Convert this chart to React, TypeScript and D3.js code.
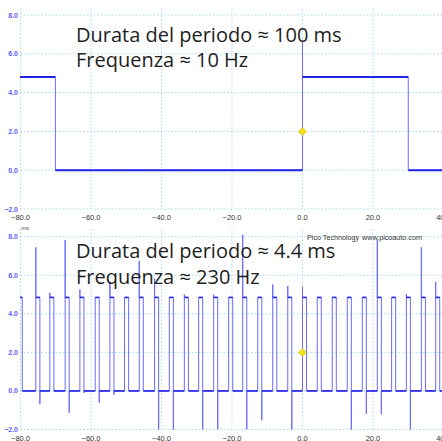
import React from 'react';
import * as d3 from 'd3';

// x axis (ms) and y axis (V) ticks, same for both traces
const timeTicks = [-80, -60, -40, -20, 0, 20, 40];
const voltTicks = [-2, 0, 2, 4, 6, 8];

// top trace: 100 ms period square wave
const topHigh = 4.8;
const topLow = 0;
const topEdges = [-70.1, 0.0, 30.0]; // first edge is a falling one
const topRiseSpike = 6.6;

// bottom trace: 4.4 ms period pulses
const bottomHigh = 4.85;
const bottomLow = 0;
const bottomFirstFall = -79.5;
const bottomPulseWidth = 1.15;
const bottomRising = [
  -75.65, -71.68, -67.33, -63.15, -58.81, -54.63, -50.48, -46.31, -41.96, -37.78,
  -33.52, -29.46, -25.2, -20.94, -16.96, -12.7, -8.44, -4.18, 0, 4.18,
  8.44, 12.7, 16.96, 21.22, 25.28, 29.46, 33.72, 37.78,
];
// [pulse index, peak volts] overshoot on rising edges
const bottomUpSpikes: [number, number][] = [
  [0, 7.45], [1, 5.09], [2, 7.83], [3, 5.26], [5, 5.66], [7, 6.75], [8, 5.83],
  [10, 5.0], [12, 5.0], [14, 8.1], [16, 5.52], [17, 5.44], [18, 5.4],
  [23, 7.83], [25, 5.02], [26, 7.45], [27, 5.66],
];
// [pulse index, trough volts] undershoot on falling edges
const bottomDownSpikes: [number, number][] = [
  [0, -0.69], [2, -1.13], [3, -0.1], [4, -0.61], [5, -0.2], [8, -2.0], [9, -2.0],
  [11, -2.0], [12, -2.0], [14, -2.0], [15, -1.52], [17, -2.0], [21, -2.0],
  [22, -1.18], [23, -1.21], [25, -2.0],
];

const triggerMarker = { t: 0, v: 2.0 };

const W = 442;
const H = 441;

type Pt = [number, number];

function topPoints(): Pt[] {
  let level = topHigh;
  const pts: Pt[] = [[-85, level]];
  topEdges.forEach((t) => {
    const next = level === topHigh ? topLow : topHigh;
    pts.push([t, level]);
    if (next === topHigh && t === 0) pts.push([t, topRiseSpike]);
    pts.push([t, next]);
    level = next;
  });
  pts.push([45, level]);
  return pts;
}

function bottomPoints(): Pt[] {
  const up = new Map(bottomUpSpikes);
  const down = new Map(bottomDownSpikes);
  const pts: Pt[] = [[-85, bottomHigh], [bottomFirstFall, bottomHigh], [bottomFirstFall, bottomLow]];
  bottomRising.forEach((r, k) => {
    const f = r + bottomPulseWidth;
    pts.push([r, bottomLow]);
    if (up.has(k)) pts.push([r, up.get(k)!]);
    pts.push([r, bottomHigh]);
    pts.push([f, bottomHigh]);
    if (down.has(k)) pts.push([f, down.get(k)!]);
    pts.push([f, bottomLow]);
  });
  pts.push([45, bottomLow]);
  return pts;
}

const fmt = d3.format('.1f');
const tickFont = 'Liberation Sans, Arial, sans-serif';

function Panel({ id, y8, yM2, gridTop, labelY, pts, heavy }: {
  id: string; y8: number; yM2: number; gridTop: number; labelY: number; pts: Pt[]; heavy: number;
}) {
  const x = d3.scaleLinear().domain([-80, 40]).range([20.5, 443.5]);
  const y = d3.scaleLinear().domain([-2, 8]).range([yM2, y8]);
  const line = d3.line<Pt>().x((d) => x(d[0])).y((d) => y(d[1]));
  const flats: Pt[][] = [];
  for (let i = 1; i < pts.length; i++) {
    if (pts[i][1] === pts[i - 1][1]) flats.push([pts[i - 1], pts[i]]);
  }
  const mx = x(triggerMarker.t);
  const my = y(triggerMarker.v);
  return (
    <g>
      <defs>
        <clipPath id={id}>
          <rect x={20} y={gridTop} width={W} height={yM2 - gridTop + 0.5} />
        </clipPath>
      </defs>
      {voltTicks.map((v) => (
        <line key={'h' + v} x1={20.5} x2={W} y1={y(v)} y2={y(v)}
          stroke="#a9d9ec" strokeWidth={1} strokeDasharray="1.5,2" />
      ))}
      {timeTicks.map((t) => (
        <line key={'v' + t} x1={x(t)} x2={x(t)} y1={gridTop} y2={yM2}
          stroke="#a9d9ec" strokeWidth={1} strokeDasharray="1.5,2" />
      ))}
      {voltTicks.map((v) => (
        <text key={'yl' + v} x={18} y={y(v) + 2.5} textAnchor="end" fontSize={7}
          fontWeight="bold" fill="#6060ff" fontFamily={tickFont}>{fmt(v)}</text>
      ))}
      {timeTicks.map((t) => (
        <text key={'xl' + t} x={x(t)} y={labelY} textAnchor="middle" fontSize={7.5}
          fill="#333" fontFamily={tickFont}>{fmt(t)}</text>
      ))}
      <g clipPath={`url(#${id})`}>
        <path d={line(pts) ?? ''} fill="none" stroke="#6b6bff" strokeWidth={1} />
        {flats.map((s, i) => (
          <path key={i} d={line(s) ?? ''} fill="none" stroke="#2424e8" strokeWidth={heavy} />
        ))}
      </g>
      <path d={`M${mx},${my - 4}L${mx + 4},${my}L${mx},${my + 4}L${mx - 4},${my}Z`}
        fill="#f2e21a" stroke="#c9b800" strokeWidth={0.6} />
    </g>
  );
}

const annoFont = '"Open Sans", Lato, sans-serif';

export default function App() {
  const top = topPoints();
  const bottom = bottomPoints();
  return (
    <div style={{ position: 'absolute', left: 0, top: 0 }}>
      <svg width={W} height={H} style={{ display: 'block', background: '#fff' }}>
        <Panel id="clipTop" y8={15} yM2={209} gridTop={9} labelY={220} pts={top} heavy={2} />
        <Panel id="clipBottom" y8={236.7} yM2={429.5} gridTop={229} labelY={440.5} pts={bottom} heavy={1.6} />
        <text x={21} y={230} fontSize={6} fill="#555" fontFamily={tickFont}>ms</text>
        <text x={307} y={240} fontSize={7.2} fill="#333" fontFamily={tickFont}>Pico Technology</text>
        <text x={362} y={240} fontSize={7.2} fill="#333" fontFamily={tickFont}>www.picoauto.com</text>
        <g fontFamily={annoFont} fontSize={20} fill="#1e1e1e">
          <text x={76} y={42}>Durata del periodo ≈ 100 ms</text>
          <text x={76} y={66.5}>Frequenza ≈ 10 Hz</text>
          <text x={76} y={257.5}>Durata del periodo ≈ 4.4 ms</text>
          <text x={76} y={283.5}>Frequenza ≈ 230 Hz</text>
        </g>
      </svg>
    </div>
  );
}
